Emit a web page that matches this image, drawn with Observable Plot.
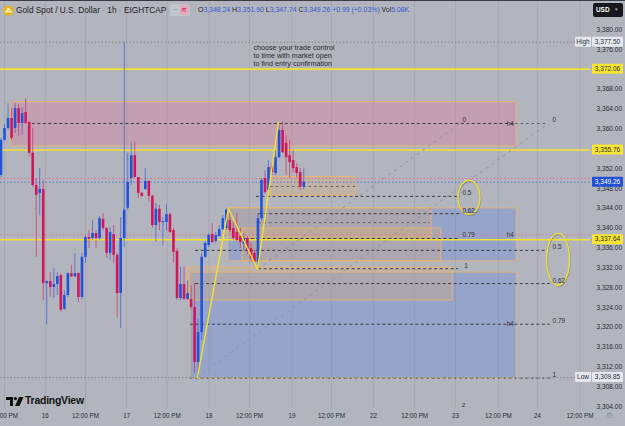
<!DOCTYPE html>
<html>
<head>
<meta charset="utf-8">
<script src="https://cdn.jsdelivr.net/npm/d3@7"></script>
<script src="https://cdn.jsdelivr.net/npm/@observablehq/plot@0.6"></script>
<style>
  html, body { margin: 0; padding: 0; background: #b2b5bd; }
  #wrap { position: relative; width: 625px; height: 426px; overflow: hidden; font-family: "Liberation Sans", Arial, sans-serif; }
  #chart svg { display: block; }
  .abs { position: absolute; white-space: nowrap; line-height: 1; }
  .blue { color: #3559d6; }
</style>
</head>
<body>
<div id="wrap">
  <div id="chart"></div>
  <div class="abs" style="left:0;top:0;width:625px;height:1px;background:#3a3d45;"></div>
  <svg class="abs" style="left:3px;top:5px" width="11" height="11" viewBox="0 0 11 11">
    <circle cx="5.5" cy="5.5" r="5.3" fill="#e2b52a"/>
    <rect x="2.3" y="5.6" width="3" height="1.8" fill="#fff6d0"/>
    <rect x="5.6" y="5.6" width="3" height="1.8" fill="#fff6d0"/>
    <rect x="3.9" y="3.4" width="3" height="1.8" fill="#fff6d0"/>
  </svg>
  <div class="abs" style="left:16px;top:6px;font-size:8.3px;color:#1d2029;">Gold Spot / U.S. Dollar <span style="color:#6b6e76">·</span> 1h <span style="color:#6b6e76">·</span> EIGHTCAP</div>
  <div class="abs" style="left:170px;top:4px;width:20px;height:12px;border-radius:3px;background:#c3c5cc;"></div>
  <div class="abs" style="left:173px;top:6px;font-size:8px;color:#8a8d95;">−</div>
  <div class="abs" style="left:180px;top:5px;width:9px;height:10px;border-radius:2px;background:#e2aabb;"></div>
  <div class="abs" style="left:181px;top:6px;font-size:7px;color:#d2165b;">≋</div>
  <div id="ohlc" class="abs" style="left:198px;top:7px;font-size:6.9px;color:#1d2029;"></div>
  <div class="abs" style="left:593px;top:3px;width:30px;height:14px;border-radius:2px;background:#16181d;"></div>
  <div class="abs" style="left:596px;top:7px;font-size:6.4px;font-weight:bold;color:#fff;">USD</div>
  <div class="abs" style="left:615px;top:7px;font-size:5px;color:#bbb;">▾</div>
  <svg class="abs" style="left:6px;top:397px" width="18" height="9" viewBox="0 0 18 9">
    <path d="M0 0H7V9H4V3H0Z" fill="#111"/>
    <circle cx="9.4" cy="1.6" r="1.6" fill="#111"/>
    <path d="M13 0H17.5L13.5 9H9Z" fill="#111"/>
  </svg>
  <div class="abs" style="left:25px;top:396px;font-size:10.4px;font-weight:bold;color:#111;letter-spacing:-0.2px;">TradingView</div>
  <div class="abs" style="left:606px;top:412px;font-size:8px;color:#8d9098;">⚙</div>
</div>
<script>
// Hourly XAU/USD candles, bar index 0 = leftmost visible bar
const open = [3350.6, 3357.7, 3360.1, 3362.1, 3360.1, 3364.1, 3361.1, 3363.3, 3361.3, 3355.1,
  3348.6, 3347.0, 3347.8, 3328.8, 3329.2, 3328.0, 3328.6, 3330.4, 3323.6, 3326.4,
  3330.8, 3330.2, 3330.8, 3326.0, 3334.1, 3338.1, 3337.9, 3338.9, 3337.9, 3341.7,
  3339.9, 3334.9, 3338.7, 3334.5, 3326.8, 3337.9, 3344.0, 3350.0, 3354.6, 3350.2,
  3347.0, 3347.8, 3349.4, 3346.4, 3340.5, 3343.8, 3341.1, 3341.1, 3342.7, 3339.5,
  3335.3, 3325.8, 3328.6, 3325.6, 3325.6, 3324.0, 3312.9, 3318.9, 3334.1, 3336.5,
  3338.7, 3337.3, 3338.3, 3339.7, 3339.9, 3341.5, 3339.9, 3339.1, 3338.3, 3336.7,
  3337.9, 3335.9, 3334.9, 3333.1, 3341.9, 3350.0, 3347.6, 3352.4, 3351.0, 3354.2,
  3359.7, 3357.1, 3354.6, 3353.6, 3352.2, 3351.2, 3348.24];
const high = [3358.1, 3360.9, 3365.1, 3364.1, 3365.1, 3364.9, 3364.3, 3366.1, 3361.5, 3360.1,
  3350.0, 3352.0, 3349.6, 3329.4, 3331.0, 3331.8, 3331.0, 3330.8, 3327.4, 3331.0,
  3332.5, 3334.9, 3331.0, 3334.9, 3338.5, 3339.5, 3341.5, 3339.5, 3342.3, 3342.9,
  3340.1, 3340.1, 3340.5, 3334.9, 3342.1, 3377.5, 3355.1, 3357.1, 3357.3, 3350.2,
  3347.2, 3352.0, 3349.6, 3346.6, 3345.0, 3344.6, 3342.1, 3344.8, 3343.1, 3339.9,
  3335.9, 3332.1, 3332.1, 3329.4, 3328.4, 3328.8, 3321.6, 3334.9, 3337.3, 3338.9,
  3340.9, 3339.1, 3340.5, 3342.5, 3343.9, 3343.6, 3341.1, 3342.9, 3339.9, 3338.9,
  3338.3, 3336.9, 3335.5, 3342.9, 3350.0, 3351.6, 3353.6, 3353.0, 3355.7, 3360.7,
  3361.3, 3358.7, 3357.7, 3355.7, 3353.0, 3352.0, 3351.90];
const low = [3350.2, 3357.5, 3359.7, 3357.7, 3359.1, 3358.5, 3358.7, 3360.9, 3354.4, 3348.2,
  3334.1, 3342.5, 3325.4, 3320.4, 3326.0, 3325.8, 3326.4, 3323.0, 3323.4, 3326.0,
  3330.0, 3330.0, 3325.0, 3325.6, 3332.9, 3335.9, 3337.5, 3335.9, 3337.5, 3339.5,
  3333.9, 3333.5, 3332.9, 3322.0, 3319.7, 3336.1, 3343.6, 3348.6, 3350.0, 3346.0,
  3346.2, 3347.6, 3345.2, 3339.9, 3337.1, 3339.5, 3336.5, 3339.5, 3338.9, 3332.9,
  3325.4, 3325.4, 3325.4, 3325.4, 3323.6, 3310.7, 3309.85, 3317.3, 3333.9, 3336.1,
  3336.9, 3336.9, 3338.1, 3339.5, 3339.5, 3339.1, 3337.5, 3337.3, 3335.9, 3335.5,
  3334.7, 3333.1, 3332.5, 3331.7, 3341.5, 3346.8, 3347.2, 3350.6, 3350.6, 3354.0,
  3355.1, 3350.6, 3350.0, 3351.2, 3350.0, 3347.6, 3347.74];
const close = [3357.7, 3360.1, 3362.1, 3358.1, 3364.1, 3361.1, 3363.1, 3361.1, 3355.1, 3348.6,
  3346.6, 3347.8, 3328.8, 3329.2, 3328.0, 3328.6, 3330.2, 3323.4, 3326.4, 3330.8,
  3330.2, 3330.8, 3326.0, 3334.1, 3338.1, 3337.7, 3338.9, 3337.9, 3341.9, 3339.9,
  3334.9, 3339.1, 3334.5, 3326.8, 3337.9, 3343.6, 3349.2, 3354.6, 3350.2, 3347.0,
  3346.4, 3349.4, 3346.4, 3340.5, 3343.8, 3341.1, 3341.3, 3342.7, 3339.1, 3335.1,
  3325.8, 3328.6, 3325.6, 3326.8, 3324.0, 3312.9, 3318.9, 3334.1, 3336.9, 3338.5,
  3337.1, 3338.5, 3339.7, 3341.9, 3343.6, 3339.5, 3337.9, 3337.5, 3337.1, 3337.9,
  3335.5, 3333.9, 3333.1, 3341.9, 3349.6, 3347.2, 3352.2, 3351.2, 3354.2, 3359.7,
  3355.2, 3354.2, 3353.2, 3352.0, 3351.0, 3348.27, 3349.26];
const volumeText = "5.08K";

// Time axis (bar-index positions) and price axis
const timeTickPos = [1.0, 12.6, 24.0, 35.7, 47.2, 59.1, 70.6, 82.7, 93.9, 105.8, 117.5, 129.1, 141.3, 152.4, 164.5];
const timeTickText = ["12:00 PM", "16", "12:00 PM", "17", "12:00 PM", "18", "12:00 PM", "19", "12:00 PM", "22", "12:00 PM", "23", "12:00 PM", "24", "12:00 PM"];
// 3,372 and 3,356 sit under the level tags and are not printed
const priceTicks = [3304, 3308, 3312, 3316, 3320, 3324, 3328, 3332, 3336, 3340, 3344, 3348, 3352, 3360, 3364, 3368, 3376, 3380];

// Horizontal key levels
const keyLevels = [3372.06, 3355.76, 3337.64];
const prevCloseLines = [3350.0, 3338.6];

// Drawn zones (supply / demand / order blocks)
const zoneKind   = ["supply", "demand", "demand", "block", "block", "block", "block"];
const zoneStart  = [2.9, 64.6, 53.8, 64.6, 68.6, 53.0, 76.6];
const zoneEnd    = [146.5, 146.5, 146.5, 122.3, 125.1, 128.3, 100.7];
const zoneTop    = [3365.4, 3343.95, 3331.0, 3344.0, 3339.9, 3332.0, 3350.3];
const zoneBottom = [3356.5, 3333.3, 3309.7, 3338.1, 3333.3, 3325.4, 3346.5];

// Fibonacci level lines
const levelPrice = [3361.1, 3361.1, 3348.4, 3346.4, 3342.9, 3341.1, 3337.9, 3335.5, 3331.8, 3328.8, 3320.6, 3309.7];
const levelStart = [8.9, 146.2, 76.6, 72.6, 73.2, 73.2, 68.0, 55.3, 73.2, 55.3, 53.8, 53.8];
const levelEnd   = [146.2, 155.5, 100.7, 130.5, 130.5, 122.0, 130.5, 155.5, 130.0, 156.0, 156.0, 156.0];
const levelDark  = [true, false, false, true, true, false, true, true, true, true, true, false];

// Fibonacci labels
const fibText  = ["0", "0.5", "0.62", "0.79", "1", "0", "0.5", "0.62", "0.79", "1"];
const fibX     = [131.1, 131.1, 131.1, 131.1, 131.6, 156.7, 156.7, 156.7, 156.7, 156.7];
const fibPrice = [3361.1, 3346.4, 3342.9, 3337.9, 3331.8, 3361.1, 3335.5, 3328.8, 3320.6, 3309.7];
const h4Price  = [3361.1, 3338.7, 3320.6];
const h4X = 144.7;

// Trend lines of the two fib tools
const trendX1 = [55.5, 72.9], trendY1 = [3309.85, 3331.7];
const trendX2 = [155.5, 130.5], trendY2 = [3361.1, 3361.1];

// Swing zigzag
const swingX = [55.8, 64.6, 72.9, 78.8];
const swingPrice = [3309.85, 3343.9, 3331.7, 3361.3];

// Highlight ellipses around retracement levels
const ringX = [133.1, 158.4], ringPrice = [3346.1, 3333.6], ringRx = [3.13, 3.27], ringRy = [3.43, 5.24];

const note = "choose your trade control\nto time with market open\nto find entry confirmation";

// ---------------------------------------------------------------------------
const bull = "#2052da", bear = "#d2165b", yellow = "#f5e22c", tan = "#f2b866";
const bars = open.map((o, i) => ({i, open: o, high: high[i], low: low[i], close: close[i]}));
const up = bars.filter(d => d.close >= d.open), down = bars.filter(d => d.close < d.open);
const last = bars[bars.length - 1], prev = bars[bars.length - 2];
const hiBar = d3.max(high), loBar = d3.min(low);

const zones = zoneKind.map((k, i) => ({k, x1: zoneStart[i], x2: zoneEnd[i], y1: zoneBottom[i], y2: zoneTop[i]}));
const levels = levelPrice.map((p, i) => ({p, x1: levelStart[i], x2: levelEnd[i], dark: levelDark[i]}));
const fibs = fibText.map((t, i) => ({t, x: fibX[i], p: fibPrice[i]}));
const trends = trendX1.map((x, i) => ({x1: x, y1: trendY1[i], x2: trendX2[i], y2: trendY2[i]}));
const swing = swingX.map((x, i) => ({x, p: swingPrice[i]}));
const rings = ringX.map((x, i) => ({x, p: ringPrice[i], rx: ringRx[i], ry: ringRy[i]}));
const timeTicks = timeTickPos.map((x, i) => ({x, t: timeTickText[i]}));
const fmt = d3.format(",.2f");

const tags = [
  {p: hiBar, bg: "#e4e7ed", fg: "#2b2e38", side: "High"},
  {p: keyLevels[0], bg: "#f6e534", fg: "#2b2e38"},
  {p: keyLevels[1], bg: "#f6e534", fg: "#2b2e38"},
  {p: last.close, bg: "#2350d6", fg: "#ffffff"},
  {p: keyLevels[2], bg: "#f6e534", fg: "#2b2e38"},
  {p: loBar, bg: "#e4e7ed", fg: "#2b2e38", side: "Low"}
];

// ellipses drawn through the x/y scales
function ringMark(index, scales) {
  const g = d3.create("svg:g").attr("fill", "none");
  for (const r of rings) {
    const cx = scales.x(r.x), cy = scales.y(r.p);
    const rx = Math.abs(scales.x(r.x + r.rx) - cx), ry = Math.abs(scales.y(r.p + r.ry) - cy);
    g.append("ellipse").attr("cx", cx + 0.6).attr("cy", cy + 1).attr("rx", rx).attr("ry", ry)
      .attr("stroke", "#4a4a4a").attr("stroke-opacity", 0.35).attr("stroke-width", 1.3);
    g.append("ellipse").attr("cx", cx).attr("cy", cy).attr("rx", rx).attr("ry", ry)
      .attr("stroke", yellow).attr("stroke-width", 1.3);
  }
  return g.node();
}

// price tags on the right scale
function tagMark(index, scales, values, dims) {
  const g = d3.create("svg:g").attr("font-size", 6.5).attr("text-anchor", "middle");
  const x0 = dims.width - 33;
  for (const t of tags) {
    const cy = scales.y(t.p);
    if (t.side) {
      g.append("rect").attr("x", x0 - 17).attr("y", cy - 5).attr("width", 16).attr("height", 10).attr("fill", t.bg).attr("rx", 1);
      g.append("text").attr("x", x0 - 9).attr("y", cy).attr("dy", "0.34em").attr("fill", t.fg).text(t.side);
    }
    g.append("rect").attr("x", x0).attr("y", cy - 5).attr("width", 31).attr("height", 10).attr("fill", t.bg).attr("rx", 1);
    g.append("text").attr("x", x0 + 15.5).attr("y", cy).attr("dy", "0.34em").attr("fill", t.fg).text(fmt(t.p));
  }
  return g.node();
}

const chart = Plot.plot({
  width: 625,
  height: 426,
  marginLeft: 0,
  marginRight: 35,
  marginTop: 0,
  marginBottom: 18,
  x: {domain: [-0.142, 167.47], axis: null},
  y: {domain: [3303.6, 3385.91]},
  style: {background: "transparent", fontFamily: "'Liberation Sans', Arial, sans-serif", color: "#2b2e38", overflow: "visible"},
  marks: [
    Plot.ruleX(timeTicks, {x: "x", stroke: "#a6a9b1", strokeWidth: 1}),
    // zones
    Plot.rect(zones.filter(d => d.k === "supply"), {x1: "x1", x2: "x2", y1: "y1", y2: "y2", fill: "#f06292", fillOpacity: 0.27, stroke: tan, strokeOpacity: 0.75}),
    Plot.rect(zones.filter(d => d.k === "demand"), {x1: "x1", x2: "x2", y1: "y1", y2: "y2", fill: "#2962ff", fillOpacity: 0.2, stroke: tan, strokeOpacity: 0.7}),
    Plot.rect(zones.filter(d => d.k === "block"), {x1: "x1", x2: "x2", y1: "y1", y2: "y2", fill: "#f0b060", fillOpacity: 0.25, stroke: tan, strokeOpacity: 0.8}),
    // full-width lines
    Plot.ruleY([hiBar, loBar], {stroke: "#80838b", strokeWidth: 1, strokeDasharray: "1.5,2"}),
    Plot.ruleY(prevCloseLines, {stroke: "#e0709a", strokeWidth: 1, strokeDasharray: "1.5,2"}),
    Plot.ruleY([last.close], {stroke: "#4d70e0", strokeWidth: 1, strokeDasharray: "1.5,2"}),
    Plot.ruleY(keyLevels, {stroke: yellow, strokeWidth: 1.6}),
    // fib levels
    Plot.ruleY(levels.filter(d => d.dark), {y: "p", x1: "x1", x2: "x2", stroke: "#3a3d44", strokeWidth: 1, strokeDasharray: "3,2.5"}),
    Plot.ruleY(levels.filter(d => !d.dark), {y: "p", x1: "x1", x2: "x2", stroke: "#5f626a", strokeWidth: 1, strokeDasharray: "2.5,3"}),
    Plot.link(trends, {x1: "x1", y1: "y1", x2: "x2", y2: "y2", stroke: "#8f939b", strokeWidth: 1, strokeDasharray: "3,4"}),
    // candles
    Plot.ruleX(up, {x: "i", y1: "low", y2: "high", stroke: bull, strokeOpacity: 0.6, strokeWidth: 1}),
    Plot.ruleX(down, {x: "i", y1: "low", y2: "high", stroke: bear, strokeOpacity: 0.6, strokeWidth: 1}),
    Plot.ruleX(up, {x: "i", y1: "open", y2: "close", stroke: bull, strokeWidth: 2.6}),
    Plot.ruleX(down, {x: "i", y1: "open", y2: "close", stroke: bear, strokeWidth: 2.6}),
    // swing zigzag
    Plot.line(swing, {x: "x", y: "p", stroke: yellow, strokeWidth: 1.4}),
    ringMark,
    // labels
    Plot.text(fibs, {x: "x", y: "p", text: "t", textAnchor: "start", lineAnchor: "bottom", dy: -1, fontSize: 6.4, fill: "#2f3238"}),
    Plot.text(h4Price, {x: h4X, y: d => d, text: () => "h4", fontSize: 6.4, fill: "#2f3238"}),
    Plot.text(["2"], {x: 131.4, y: 3304.3, text: d => d, fontSize: 6.2, fill: "#2f3238"}),
    Plot.text([note], {x: 71.7, y: 3374.8, text: d => d, textAnchor: "start", lineAnchor: "middle", lineHeight: 1.1, fontSize: 7.2, fill: "#2a2b2e"}),
    // axes
    Plot.text(timeTicks, {x: "x", text: "t", frameAnchor: "bottom", dy: 9, fontSize: 6.3, fill: "#2b2e38"}),
    Plot.axisY(priceTicks, {anchor: "right", tickSize: 0, tickPadding: 6, tickFormat: fmt, fontSize: 6.6}),
    tagMark
  ]
});
document.getElementById("chart").append(chart);

// legend line: OHLC of the latest bar
const chg = last.close - prev.close;
const sign = chg >= 0 ? "+" : "−";
document.getElementById("ohlc").innerHTML =
  `O<span class="blue">${fmt(last.open)}</span> H<span class="blue">${fmt(last.high)}</span> ` +
  `L<span class="blue">${fmt(last.low)}</span> C<span class="blue">${fmt(last.close)}</span> ` +
  `<span class="blue">${sign}${fmt(Math.abs(chg))} (${sign}${d3.format(".2f")(Math.abs(chg) / prev.close * 100)}%)</span> ` +
  `Vol<span class="blue">${volumeText}</span>`;
</script>
</body>
</html>
